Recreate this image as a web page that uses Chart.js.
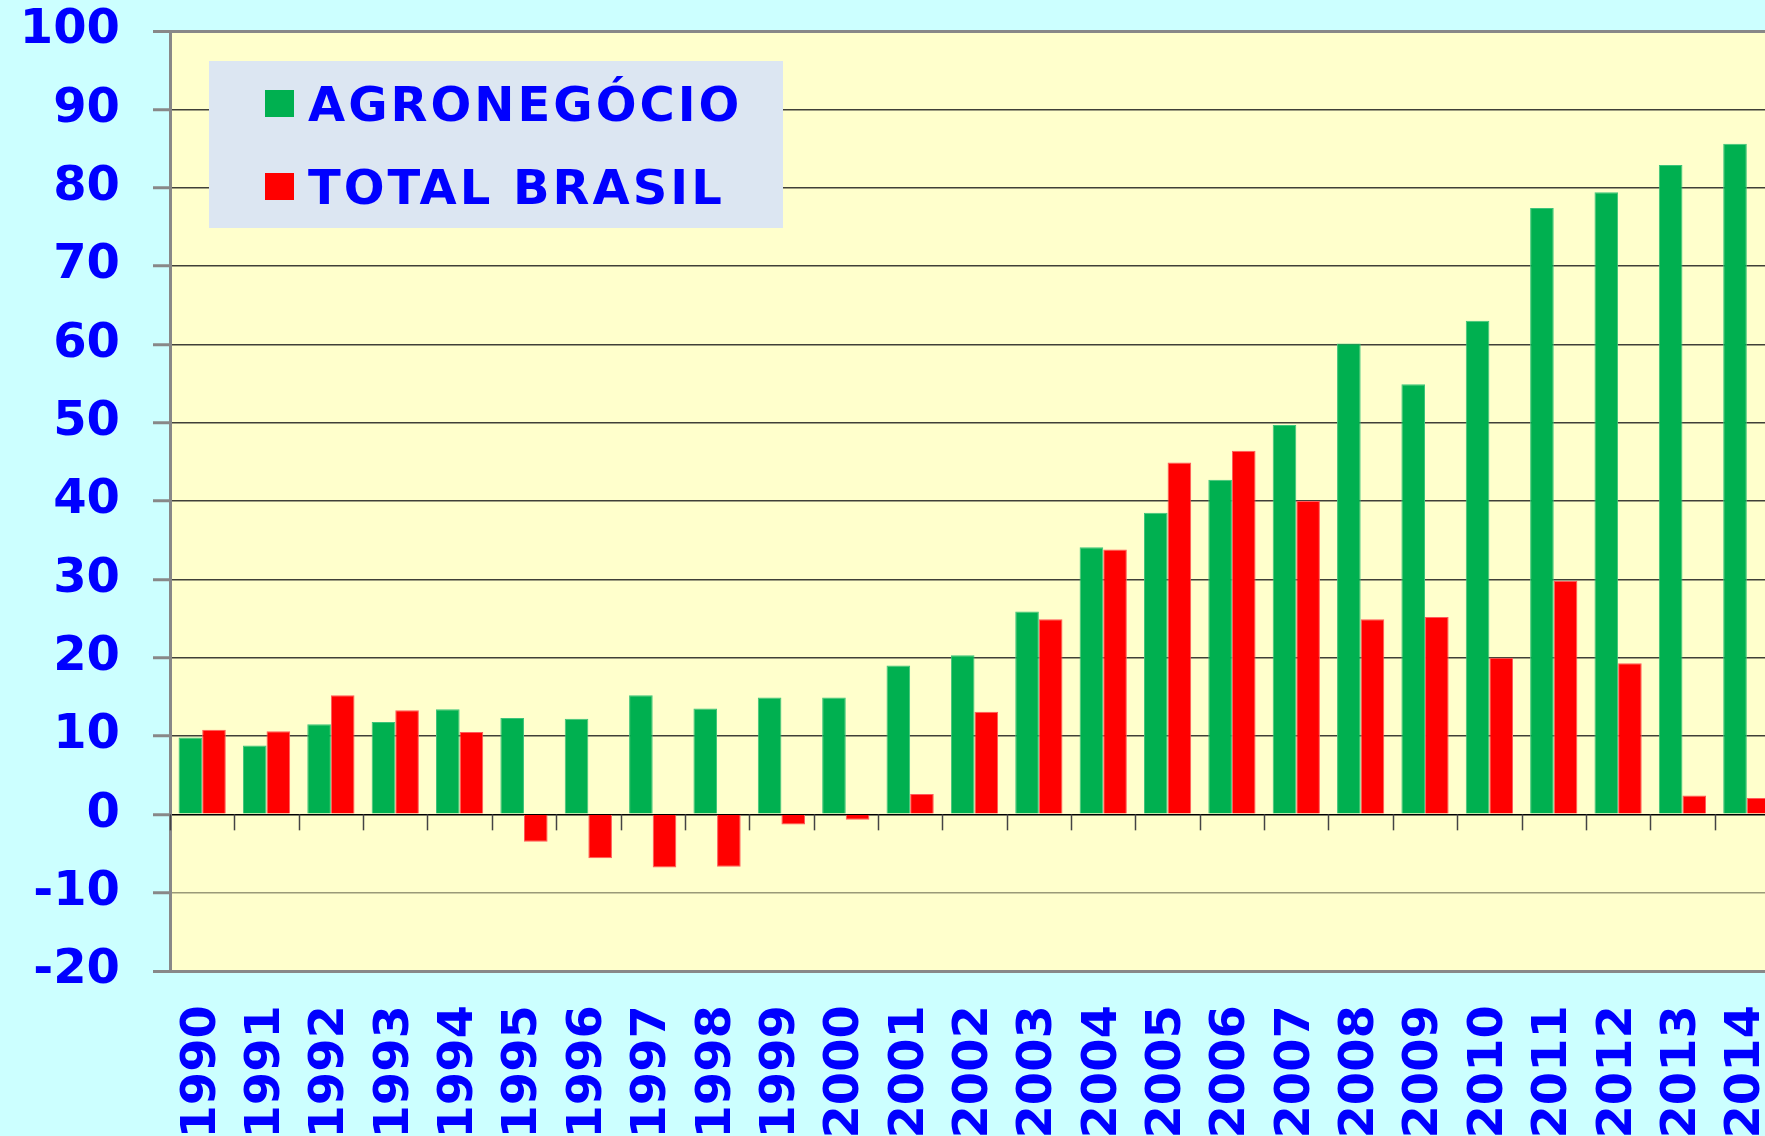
<!DOCTYPE html>
<html><head><meta charset="utf-8">
<script src="https://cdn.jsdelivr.net/npm/chart.js@4.4.1/dist/chart.umd.min.js"></script>
<style>
html,body{margin:0;padding:0;background:#CCFFFF;overflow:hidden;width:1765px;height:1136px;}
#wrap{position:absolute;left:0;top:0;width:1800px;height:1136px;}
canvas{display:block;}
</style></head><body>
<div id="wrap"><canvas id="c" width="1800" height="1136"></canvas></div>
<script>
const years = ['1990','1991','1992','1993','1994','1995','1996','1997','1998','1999','2000','2001','2002','2003','2004','2005','2006','2007','2008','2009','2010','2011','2012','2013','2014'];
const agronegocio = [9.8, 8.8, 11.5, 11.8, 13.4, 12.3, 12.2, 15.2, 13.5, 14.9, 14.9, 19.0, 20.3, 25.9, 34.1, 38.5, 42.7, 49.7, 60.1, 54.9, 63.0, 77.4, 79.4, 82.9, 85.6];
const totalBrasil = [10.8, 10.6, 15.2, 13.3, 10.5, -3.5, -5.6, -6.8, -6.7, -1.3, -0.7, 2.6, 13.1, 24.9, 33.8, 44.9, 46.4, 40.0, 24.9, 25.2, 20.0, 29.8, 19.3, 2.4, 2.1];
const seriesNames = ['AGRONEGÓCIO', 'TOTAL BRASIL'];
const yMin = -20, yMax = 100, yStep = 10;

const FONT = '"DejaVu Sans", Verdana, sans-serif';
const BLUE = '#0000FF';

const plotBg = {
  id: 'plotBg',
  beforeDraw(chart) {
    const a = chart.chartArea, ctx = chart.ctx;
    ctx.save();
    ctx.fillStyle = '#FFFFCC';
    ctx.fillRect(a.left, a.top, a.right - a.left, a.bottom - a.top);
    ctx.restore();
  }
};

const zeroTicks = {
  id: 'zeroTicks',
  afterDatasetsDraw(chart) {
    const x = chart.scales.x, y = chart.scales.y, ctx = chart.ctx;
    const y0 = y.getPixelForValue(0);
    const n = chart.data.labels.length;
    const w = (x.getPixelForValue(1) - x.getPixelForValue(0));
    ctx.save();
    ctx.strokeStyle = '#444';
    ctx.lineWidth = 1.5;
    for (let i = 0; i <= n; i++) {
      const px = Math.round(x.getPixelForValue(i) - w / 2) + 0.5;
      ctx.beginPath();
      ctx.moveTo(px, y0);
      ctx.lineTo(px, y0 + 16);
      ctx.stroke();
    }
    ctx.restore();
  }
};

const boxLegend = {
  id: 'boxLegend',
  afterDraw(chart) {
    const ctx = chart.ctx;
    ctx.save();
    ctx.fillStyle = '#DCE6F2';
    ctx.fillRect(209, 61, 574, 167);
    const rows = [103.5, 186.5];
    chart.data.datasets.forEach((ds, i) => {
      const cy = rows[i];
      ctx.fillStyle = ds.backgroundColor;
      ctx.fillRect(265, cy - 13.5, 29, 27);
      ctx.fillStyle = BLUE;
      ctx.font = 'bold 48px ' + FONT;
      if ('letterSpacing' in ctx) ctx.letterSpacing = '3px';
      ctx.textBaseline = 'alphabetic';
      ctx.textAlign = 'left';
      ctx.fillText(ds.label, 308, cy + 17.5);
      if ('letterSpacing' in ctx) ctx.letterSpacing = '0px';
    });
    ctx.restore();
  }
};

function gridColor(c) {
  const v = c.tick ? c.tick.value : null;
  if (v === yMax || v === yMin) return '#888888';
  if (v === 0) return '#000000';
  if (v === -10) return '#9a9a78';
  return '#404038';
}
function gridWidth(c) {
  const v = c.tick ? c.tick.value : null;
  if (v === yMax || v === yMin) return 3;
  return 1.5;
}

new Chart(document.getElementById('c'), {
  type: 'bar',
  data: {
    labels: years,
    datasets: [
      { label: seriesNames[0], data: agronegocio, backgroundColor: '#00B050', borderColor: '#3cc47a', borderWidth: 1 },
      { label: seriesNames[1], data: totalBrasil, backgroundColor: '#FF0000', borderColor: '#ff5a5a', borderWidth: 1 }
    ]
  },
  options: {
    responsive: false,
    devicePixelRatio: 1,
    animation: false,
    layout: { padding: { top: 31, right: 21, left: 0, bottom: 0 } },
    categoryPercentage: 0.734,
    barPercentage: 1.0,
    plugins: { legend: { display: false }, tooltip: { enabled: false } },
    scales: {
      x: {
        type: 'category',
        grid: { display: false, drawTicks: false },
        border: { display: false },
        ticks: {
          autoSkip: false, minRotation: 90, maxRotation: 90, padding: 34,
          color: BLUE, font: { family: FONT, size: 48, weight: 'bold' }
        },
        afterFit(s) { s.height = 165; s.paddingLeft = 0; s.paddingRight = 0; }
      },
      y: {
        min: yMin, max: yMax,
        ticks: {
          stepSize: yStep, padding: 33, color: BLUE,
          font: { family: FONT, size: 48, weight: 'bold' }
        },
        grid: { color: gridColor, lineWidth: gridWidth, tickColor: '#888888', tickWidth: 3, tickLength: 17 },
        border: { color: '#888888', width: 3 },
        afterFit(s) { s.width = 170; s.paddingTop = 0; s.paddingBottom = 0; }
      }
    }
  },
  plugins: [plotBg, zeroTicks, boxLegend]
});
</script>
</body></html>
